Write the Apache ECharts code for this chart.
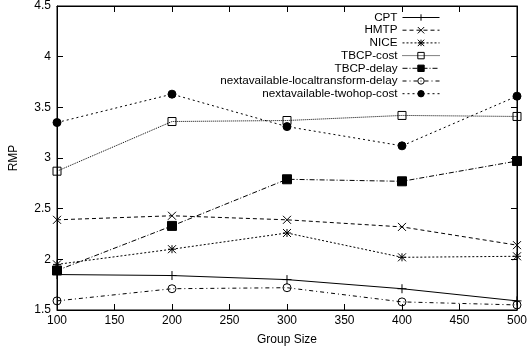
<!DOCTYPE html>
<html>
<head>
<meta charset="utf-8">
<script src="https://cdn.jsdelivr.net/npm/echarts@6/dist/echarts.min.js"></script>
<style>
  html, body { margin: 0; padding: 0; background: #fff; }
  #chart { width: 530px; height: 353px; }
</style>
</head>
<body>
<div id="chart"></div>
<script>
// group sizes on the x axis
const groupSizes = [100, 200, 300, 400, 500];

// RMP values per protocol
const cpt = [1.85, 1.84, 1.80, 1.71, 1.59];
const hmtp = [2.39, 2.43, 2.39, 2.32, 2.14];
const nice = [1.95, 2.10, 2.26, 2.02, 2.03];
const tbcpCost = [2.87, 3.36, 3.37, 3.42, 3.41];
const tbcpDelay = [1.89, 2.33, 2.79, 2.77, 2.97];
const localTransformDelay = [1.59, 1.71, 1.72, 1.58, 1.55];
const twohopCost = [3.35, 3.63, 3.31, 3.12, 3.61];

const xTicks = [100, 500, 50]; // min, max, step
const yTicks = [1.5, 4.5, 0.5];

const FONT = 'Liberation Sans, Arial, sans-serif';

const plusPath = 'path://M0,5L10,5M5,0L5,10';
const crossPath = 'path://M0,0L10,10M10,0L0,10';
const starPath = 'path://M0,0L10,10M10,0L0,10M0,5L10,5M5,0L5,10';

const seriesDefs = [
  { name: 'CPT', data: cpt, dash: 'solid', symbol: plusPath, size: 9, fill: 'transparent' },
  { name: 'HMTP', data: hmtp, dash: [4, 3], symbol: crossPath, size: 8, fill: 'transparent' },
  { name: 'NICE', data: nice, dash: [2, 2], symbol: starPath, size: 8, fill: 'transparent' },
  { name: 'TBCP-cost', data: tbcpCost, dash: [1, 1], symbol: 'rect', size: 8, fill: 'transparent' },
  { name: 'TBCP-delay', data: tbcpDelay, dash: [5, 2, 1, 2], symbol: 'rect', size: 9, fill: '#000' },
  { name: 'nextavailable-localtransform-delay', data: localTransformDelay, dash: [4, 3, 1, 3], symbol: 'circle', size: 8, fill: 'transparent' },
  { name: 'nextavailable-twohop-cost', data: twohopCost, dash: [2, 3], symbol: 'circle', size: 8, fill: '#000' },
];

const chart = echarts.init(document.getElementById('chart'));

const axisCommon = {
  axisLine: { show: true, lineStyle: { color: '#000', width: 1 } },
  axisTick: { show: true, inside: true, length: 6, lineStyle: { color: '#000' } },
  splitLine: { show: false },
};

const series = seriesDefs.map((s) => ({
  name: s.name,
  type: 'line',
  xAxisIndex: 0,
  yAxisIndex: 0,
  data: groupSizes.map((g, i) => [g, s.data[i]]),
  symbol: s.symbol,
  symbolSize: s.size,
  showAllSymbol: true,
  animation: false,
  lineStyle: { color: '#000', width: 1, type: s.dash },
  itemStyle: { color: s.fill, borderColor: '#000', borderWidth: 1 },
  emphasis: { disabled: true },
}));

// one legend per entry so the texts line up on the right like gnuplot
const legends = seriesDefs.map((s, i) => ({
  data: [s.name],
  right: 90,
  top: 11.5 + i * 12.7,
  orient: 'vertical',
  align: 'right',
  padding: 0,
  itemWidth: 37,
  itemHeight: 8,
  itemGap: 0,
  selectedMode: false,
  lineStyle: { width: 1 },
  itemStyle: { borderWidth: 1 },
  textStyle: { fontFamily: FONT, fontSize: 11.7, color: '#000', padding: [0, 0, 0, 0] },
}));

chart.setOption({
  backgroundColor: '#fff',
  animation: false,
  grid: {
    left: 57, right: 8, top: 4, bottom: 43,
    show: true, borderColor: '#000', borderWidth: 1, backgroundColor: 'transparent',
  },
  legend: legends,
  xAxis: [
    {
      type: 'value', position: 'bottom',
      min: xTicks[0], max: xTicks[1], interval: xTicks[2],
      name: 'Group Size', nameLocation: 'middle', nameGap: 24,
      nameTextStyle: { fontFamily: FONT, fontSize: 12, color: '#000' },
      axisLabel: { fontFamily: FONT, fontSize: 12, color: '#000', margin: 5 },
      ...axisCommon,
    },
    {
      type: 'value', position: 'top',
      min: xTicks[0], max: xTicks[1], interval: xTicks[2],
      axisLabel: { show: false },
      ...axisCommon,
    },
  ],
  yAxis: [
    {
      type: 'value', position: 'left',
      min: yTicks[0], max: yTicks[1], interval: yTicks[2],
      name: 'RMP', nameLocation: 'middle', nameGap: 37,
      nameTextStyle: { fontFamily: FONT, fontSize: 12, color: '#000' },
      axisLabel: { fontFamily: FONT, fontSize: 12, color: '#000', margin: 6 },
      ...axisCommon,
    },
    {
      type: 'value', position: 'right',
      min: yTicks[0], max: yTicks[1], interval: yTicks[2],
      axisLabel: { show: false },
      ...axisCommon,
    },
  ],
  series: series,
});
</script>
</body>
</html>
